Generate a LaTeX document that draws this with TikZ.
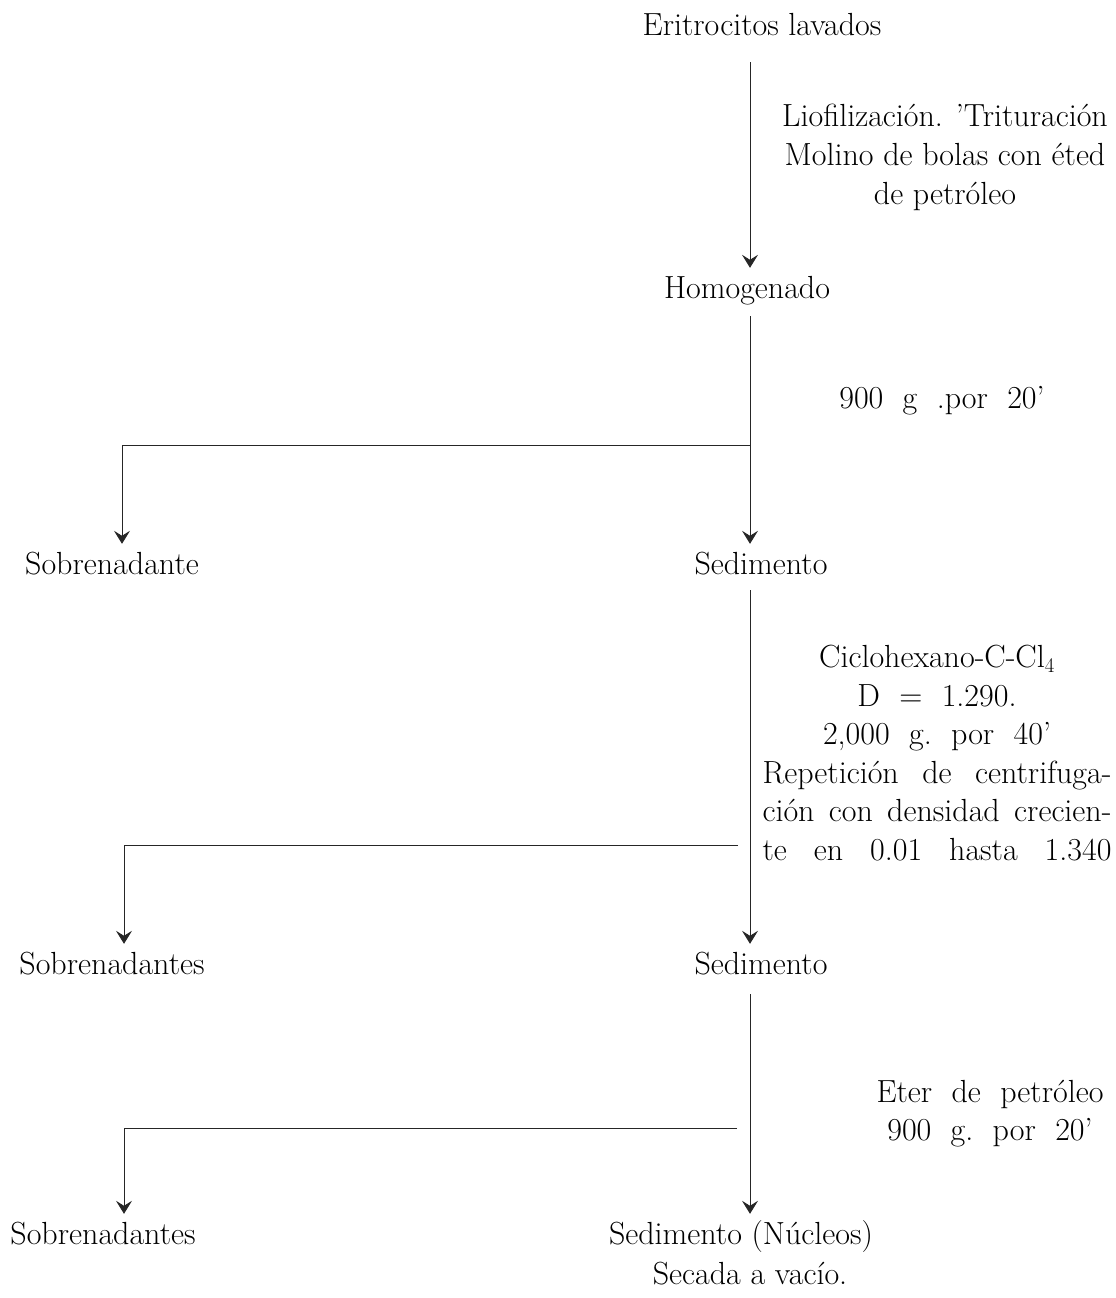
\documentclass[tikz,border=0pt]{standalone}
\usepackage{fontspec}
\usetikzlibrary{arrows.meta}
\begin{document}
\begin{tikzpicture}[x=1pt,y=-1pt,
  txt/.style={font=\fontsize{32}{40}\selectfont, inner xsep=0pt, inner ysep=8pt,
              text height=22pt, text depth=6pt, anchor=base},
  blk/.style={font=\fontsize{32}{39}\selectfont, align=center, inner sep=0pt, anchor=base},
  flow/.style={line width=0.9pt, draw=black!85},
  arr/.style={flow, -{Stealth[length=13pt,width=16pt,inset=5pt]}}]
\useasboundingbox (0,0) rectangle (1116,1298);

% process nodes
\node[txt] (eri)  at (762,36)   {Eritrocitos lavados};
\node[txt] (hom)  at (747,298)  {Homogenado};
\node[txt] (sob1) at (112,574)  {Sobrenadante};
\node[txt] (sed1) at (761,574)  {Sedimento};
\node[txt] (sob2) at (112,974)  {Sobrenadantes};
\node[txt] (sed2) at (761,974)  {Sedimento};
\node[txt] (sob3) at (103,1244) {Sobrenadantes};
\node[txt] (sed3) at (741,1244) {Sedimento (Núcleos)};
\node[txt] (sec)  at (750,1284) {Secada a vacío.};

% step notes (anchor base = baseline of the last line)
\node[blk] (n0) at (945,204)
  {Liofilización. 'Trituración\\ Molino de bolas con éted\\ de petróleo};
\node[blk] (n1) at (942,408) {900~~g~~.por~~20'};
\node[blk, font=\fontsize{32}{38.5}\selectfont] (n2) at (937,860)
  {Ciclohexano-C-Cl$_4$\\ D~~=~~1.290.\\ 2,000~~g.~~por~~40'\\
   \makebox[349pt][s]{Repetición de centrifuga-}\\
   \makebox[349pt][s]{ción con densidad crecien-}\\
   \makebox[349pt][s]{te en 0.01 hasta 1.340}};
\node[blk, font=\fontsize{32}{38}\selectfont] (n3) at (990,1140)
  {Eter~~de~~petróleo\\ 900~~g.~~por~~20'};

% junctions
\coordinate (j1) at (750,445);
\coordinate (l1) at (122,445);
\coordinate (r2) at (738,845);
\coordinate (l2) at (124,845);
\coordinate (r3) at (737,1128);
\coordinate (l3) at (124,1128);

% connectors
\draw[arr, shorten <=12pt] (eri.south -| j1) -- (hom.north -| j1);
\draw[flow, shorten <=4pt] (hom.south -| j1) -- (j1);
\draw[arr] (j1) -- (sed1.north -| j1);
\draw[arr] (j1) -- (l1) -- (sob1.north -| l1);

\draw[arr, shorten <=2pt] (sed1.south -| j1) -- (sed2.north -| j1);
\draw[arr] (r2) -- (l2) -- (sob2.north -| l2);

\draw[arr, shorten <=6pt] (sed2.south -| j1) -- (sed3.north -| j1);
\draw[arr] (r3) -- (l3) -- (sob3.north -| l3);
\end{tikzpicture}
\end{document}
